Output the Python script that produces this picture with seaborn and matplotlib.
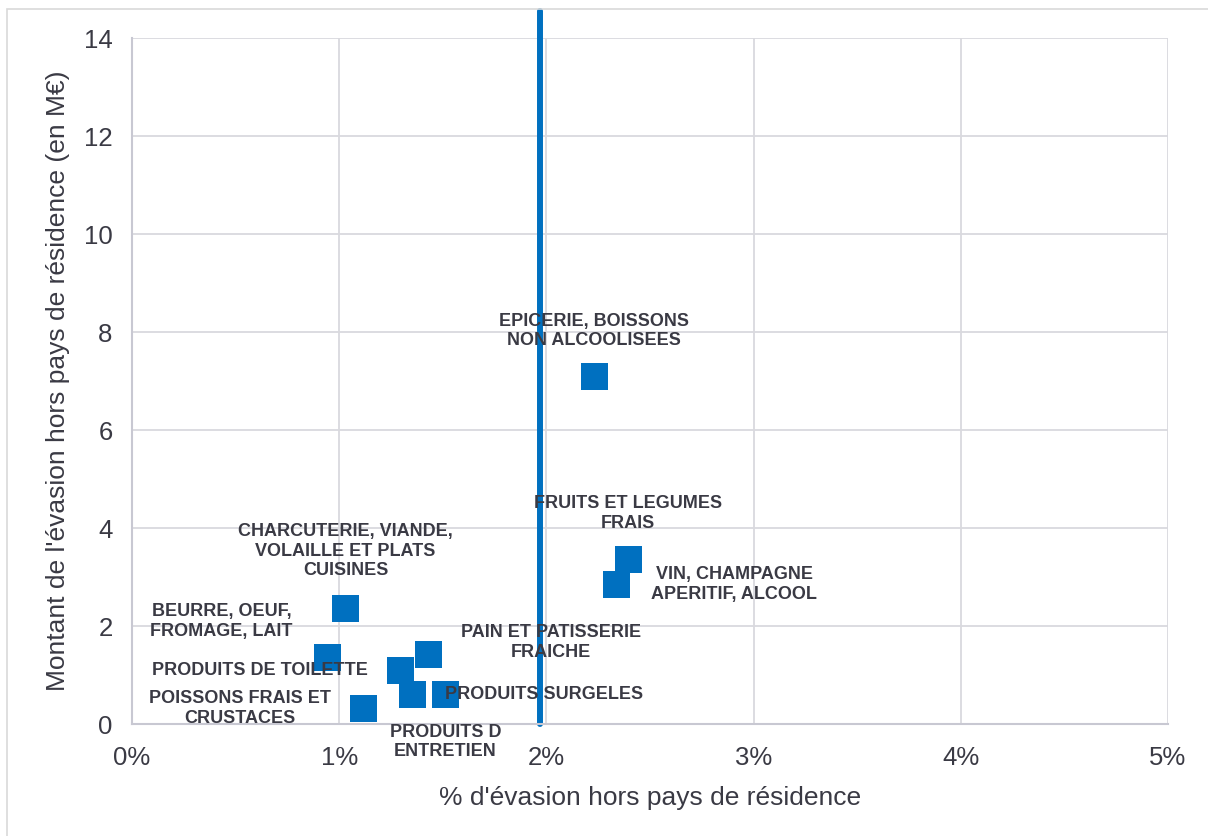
import matplotlib
matplotlib.use("Agg")
import matplotlib.pyplot as plt
import seaborn as sns
import pandas as pd
from matplotlib.patches import Rectangle
from matplotlib.ticker import FuncFormatter

# ---- data ----
categories = [
    "EPICERIE, BOISSONS\nNON ALCOOLISEES",
    "FRUITS ET LEGUMES\nFRAIS",
    "VIN, CHAMPAGNE\nAPERITIF, ALCOOL",
    "CHARCUTERIE, VIANDE,\nVOLAILLE ET PLATS\nCUISINES",
    "BEURRE, OEUF,\nFROMAGE, LAIT",
    "PAIN ET PATISSERIE\nFRAICHE",
    "PRODUITS DE TOILETTE",
    "POISSONS FRAIS ET\nCRUSTACES",
    "PRODUITS D\nENTRETIEN",
    "PRODUITS SURGELES",
]
pct_evasion = [2.23, 2.395, 2.337, 1.031, 0.944, 1.43, 1.295, 1.116, 1.512, 1.353]
montant = [7.10, 3.36, 2.85, 2.36, 1.36, 1.42, 1.09, 0.32, 0.61, 0.61]
moyenne_pct = 1.97

# label offsets in pixels (dx, dy) relative to each point
label_offsets = [(0, 45), (0, 46), (118, 0), (0, 57), (-106, 36),
                 (123, 12), (-140, 0), (-123, 0), (0, -48), (132, 0)]

df = pd.DataFrame({"cat": categories, "pct": pct_evasion, "montant": montant})

sns.set_theme(style="whitegrid")
plt.rcParams["font.family"] = ["Liberation Sans", "DejaVu Sans"]

blue = "#0070C0"
txt = "#3a3a44"
grid = "#d9d9de"

fig = plt.figure(figsize=(12.08, 8.36), dpi=100)
ax = fig.add_axes([132 / 1208, 112 / 836, 1036 / 1208, 686 / 836])

sns.scatterplot(data=df, x="pct", y="montant", marker="s", s=380,
                color=blue, edgecolor="none", ax=ax, zorder=3)

# average line, sticks out above the plot area
ax.axvline(moyenne_pct, ymin=0, ymax=1.04, color=blue, lw=4.3,
           clip_on=False, zorder=2)

for (lab, x, y), (dx, dy) in zip(zip(categories, pct_evasion, montant), label_offsets):
    ax.annotate(lab, (x, y), xytext=(dx, dy), textcoords="offset pixels",
                ha="center", va="center", fontsize=13, fontweight="bold",
                color=txt, linespacing=1.2, zorder=4)

ax.set_xlim(0, 5)
ax.set_ylim(0, 14)
ax.set_xticks(range(0, 6))
ax.set_yticks(range(0, 15, 2))
ax.xaxis.set_major_formatter(FuncFormatter(lambda v, p: f"{v:.0f}%"))
ax.tick_params(axis="both", labelsize=18.5, colors=txt, length=0)
ax.tick_params(axis="x", pad=16)
ax.tick_params(axis="y", pad=14)
ax.set_xlabel("% d'évasion hors pays de résidence", fontsize=19, color=txt, labelpad=11)
ax.set_ylabel("Montant de l'évasion hors pays de résidence (en M€)", fontsize=19,
              color=txt, labelpad=10)

ax.grid(True, color=grid, lw=1.3)
for side in ["top", "right"]:
    ax.spines[side].set_visible(False)
for side in ["left", "bottom"]:
    ax.spines[side].set_color("#c8c8d2")
    ax.spines[side].set_linewidth(1.5)

# thin frame around the chart
fig.patches.append(Rectangle((7 / 1208, -0.1), 1.2, (836 - 9) / 836 + 0.1,
                             transform=fig.transFigure, fill=False,
                             edgecolor="#d9d9d9", lw=1.2))

fig.savefig("out.png", dpi=100)
